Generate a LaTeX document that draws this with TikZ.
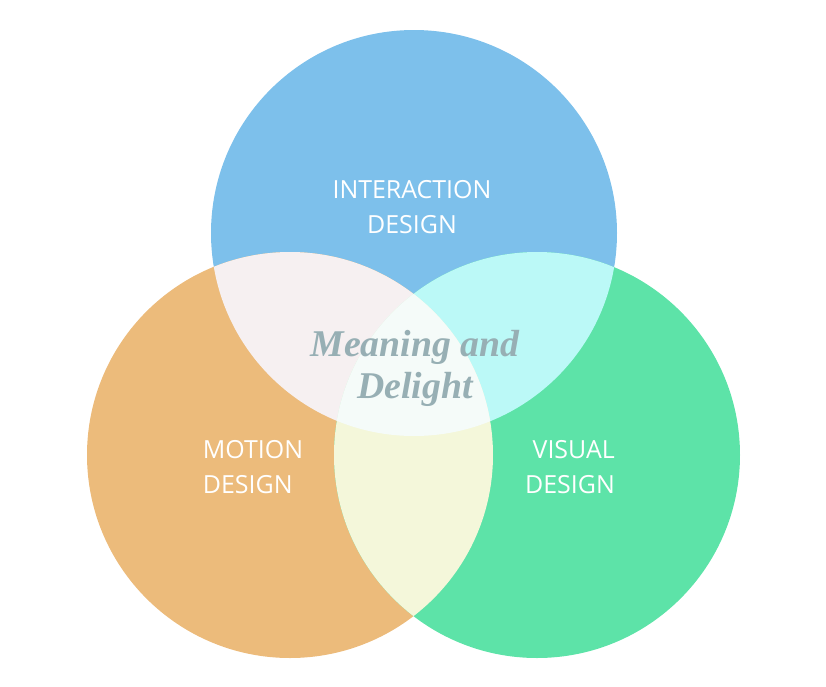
\documentclass[tikz,border=0pt]{standalone}
\usepackage{fontspec}
\setmainfont{Open Sans}
\newfontfamily\delightfont{Liberation Serif}
\usepackage{xcolor}
\definecolor{interblue}{HTML}{7DC0EB}
\definecolor{motionorange}{HTML}{ECBB7B}
\definecolor{visualgreen}{HTML}{5DE3A8}
\definecolor{blueorange}{HTML}{F6F0F1}
\definecolor{bluegreen}{HTML}{BBF9F7}
\definecolor{orangegreen}{HTML}{F4F7DA}
\definecolor{allthree}{HTML}{F5FBF9}
\definecolor{delightgray}{HTML}{97AFB4}

\begin{document}
\begin{tikzpicture}[
			x=0.02cm, y=-0.02cm,
			label/.style={text=white, font=\fontsize{14.2}{20}\selectfont},
			centertext/.style={text=delightgray, align=center, font=\delightfont\bfseries\itshape\fontsize{21.5}{24}\selectfont}
			]
			
			\useasboundingbox (0,0) rectangle (826,687);
			
			\coordinate (ci) at (414,233);
			\coordinate (cm) at (290,455);
			\coordinate (cv) at (537,455);
			
			\fill[interblue] (ci) circle[radius=203];
			\fill[motionorange] (cm) circle[radius=203];
			\fill[visualgreen] (cv) circle[radius=203];
			
			\begin{scope}
				\clip (ci) circle[radius=203];
				\fill[blueorange] (cm) circle[radius=203];
				\fill[bluegreen] (cv) circle[radius=203];
			\end{scope}
			\begin{scope}
				\clip (cm) circle[radius=203];
				\fill[orangegreen] (cv) circle[radius=203];
				\clip (cv) circle[radius=203];
				\fill[allthree] (ci) circle[radius=203];
			\end{scope}
			
			\node[label, align=center] (interaction) at (412,207) {INTERACTION\\DESIGN};
			\node[label, align=left] (motion) at (253,467) {MOTION\\DESIGN};
			\node[label, align=right] (visual) at (570,467) {VISUAL\\DESIGN};
			
			\node[centertext] (delight) at (415,368) {Meaning and\\Delight};
			
		\end{tikzpicture}
\end{document}
